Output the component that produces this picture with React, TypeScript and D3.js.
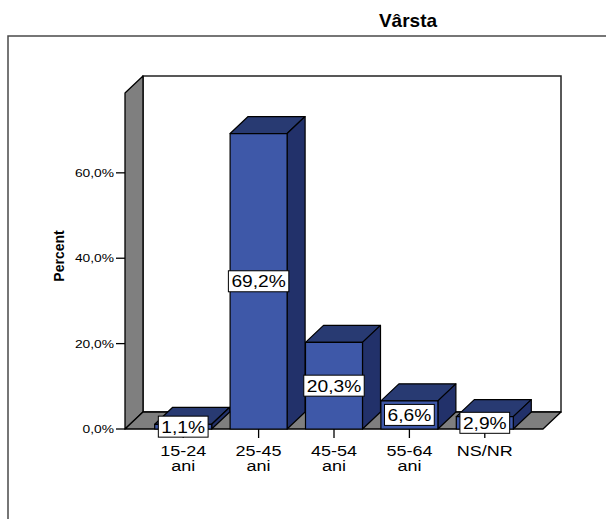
import React from "react";
import * as d3 from "d3";

const categories = ["15-24 ani", "25-45 ani", "45-54 ani", "55-64 ani", "NS/NR"];
const values = [1.1, 69.2, 20.3, 6.6, 2.9];
const yTicks = [0, 20, 40, 60];
const title = "Vârsta";
const yTitle = "Percent";

const W = 606;
const H = 519;
const FONT = "'Liberation Sans', Arial, Helvetica, sans-serif";
const SX = 1.2; // horizontal stretch of text seen in the reference

const DX = 18;
const DY = 17;
const X0 = 125;
const X1 = 543;
const Y0 = 429;
const YTOP = 93;

let ctx: CanvasRenderingContext2D | null = null;
function textWidth(s: string, font: string): number {
  if (!ctx && typeof document !== "undefined") {
    ctx = document.createElement("canvas").getContext("2d");
  }
  if (!ctx) return s.length * 8;
  ctx.font = font;
  return ctx.measureText(s).width;
}

const fmt = (v: number) => v.toFixed(1).replace(".", ",") + "%";

export default function App() {
  const x = d3
    .scaleBand<string>()
    .domain(categories)
    .range([X0, X1])
    .paddingInner(0.244)
    .paddingOuter(0.394);
  const y = d3.scaleLinear().domain([0, 78.7]).range([Y0, YTOP]);
  const bw = x.bandwidth();

  const front = "#3e58a8";
  const top = "#283a72";
  const side = "#22316a";

  return (
    <svg
      width={W}
      height={H}
      style={{ position: "absolute", left: 0, top: 0, background: "#fff" }}
      fontFamily={FONT}
    >
      {/* outer frame */}
      <path d={`M8,${H + 2} L8,36 L${W + 2},36`} fill="none" stroke="#4a4a4a" strokeWidth={1.5} />
      {/* title */}
      <text x={408} y={27} textAnchor="middle" fontSize={19} fontWeight="bold" fill="#000">
        {title}
      </text>

      {/* back wall */}
      <rect
        x={X0 + DX}
        y={YTOP - DY}
        width={X1 - X0}
        height={Y0 - YTOP}
        fill="#fff"
        stroke="#222"
        strokeWidth={1.5}
      />
      {/* side wall */}
      <polygon
        points={`${X0},${YTOP} ${X0 + DX},${YTOP - DY} ${X0 + DX},${Y0 - DY} ${X0},${Y0}`}
        fill="#7f7f7f"
        stroke="#000"
        strokeWidth={1.3}
        strokeLinejoin="round"
      />
      {/* floor */}
      <polygon
        points={`${X0},${Y0} ${X0 + DX},${Y0 - DY} ${X1 + DX},${Y0 - DY} ${X1},${Y0}`}
        fill="#7f7f7f"
        stroke="#000"
        strokeWidth={1.3}
        strokeLinejoin="round"
      />

      {/* y ticks */}
      {yTicks.map((t) => (
        <g key={t}>
          <line x1={X0 - 9} x2={X0} y1={y(t)} y2={y(t)} stroke="#000" strokeWidth={1.3} />
          <text
            transform={`translate(${X0 - 11},${y(t) + 4}) scale(${SX},1)`}
            textAnchor="end"
            fontSize={11.5}
            fill="#000"
          >
            {fmt(t)}
          </text>
        </g>
      ))}
      {/* y title */}
      <text
        transform={`translate(64,256) rotate(-90)`}
        textAnchor="middle"
        fontSize={14}
        fontWeight="bold"
        fill="#000"
      >
        {yTitle}
      </text>

      {/* x ticks */}
      {categories.map((c) => {
        const cx = (x(c) as number) + bw / 2;
        return <line key={c} x1={cx} x2={cx} y1={Y0} y2={Y0 + 9} stroke="#000" strokeWidth={1.3} />;
      })}

      {/* bars */}
      {categories.map((c, i) => {
        const bx = x(c) as number;
        const by = y(values[i]);
        return (
          <g key={c} stroke="#000" strokeWidth={1.2} strokeLinejoin="round">
            <polygon
              points={`${bx},${by} ${bx + DX},${by - DY} ${bx + bw + DX},${by - DY} ${bx + bw},${by}`}
              fill={top}
            />
            <polygon
              points={`${bx + bw},${by} ${bx + bw + DX},${by - DY} ${bx + bw + DX},${Y0 - DY} ${bx + bw},${Y0}`}
              fill={side}
            />
            <rect x={bx} y={by} width={bw} height={Y0 - by} fill={front} />
          </g>
        );
      })}

      {/* value labels */}
      {categories.map((c, i) => {
        const cx = (x(c) as number) + bw / 2;
        const cy = (y(values[i]) + Y0) / 2;
        const s = fmt(values[i]);
        const tw = textWidth(s, `16px ${FONT}`) * SX;
        const boxW = tw + 6;
        return (
          <g key={c}>
            <rect
              x={cx - boxW / 2}
              y={cy - 10.5}
              width={boxW}
              height={21}
              fill="#fff"
              stroke="#000"
              strokeWidth={1}
            />
            <text
              transform={`translate(${cx},${cy + 6}) scale(${SX},1)`}
              textAnchor="middle"
              fontSize={16}
              fill="#000"
            >
              {s}
            </text>
          </g>
        );
      })}

      {/* x labels */}
      {categories.map((c) => {
        const cx = (x(c) as number) + bw / 2;
        const lines = c.split(" ");
        return (
          <g key={c}>
            {lines.map((ln, j) => (
              <text
                key={j}
                transform={`translate(${cx},${456 + j * 15}) scale(${SX},1)`}
                textAnchor="middle"
                fontSize={15}
                fill="#000"
              >
                {ln}
              </text>
            ))}
          </g>
        );
      })}
    </svg>
  );
}
